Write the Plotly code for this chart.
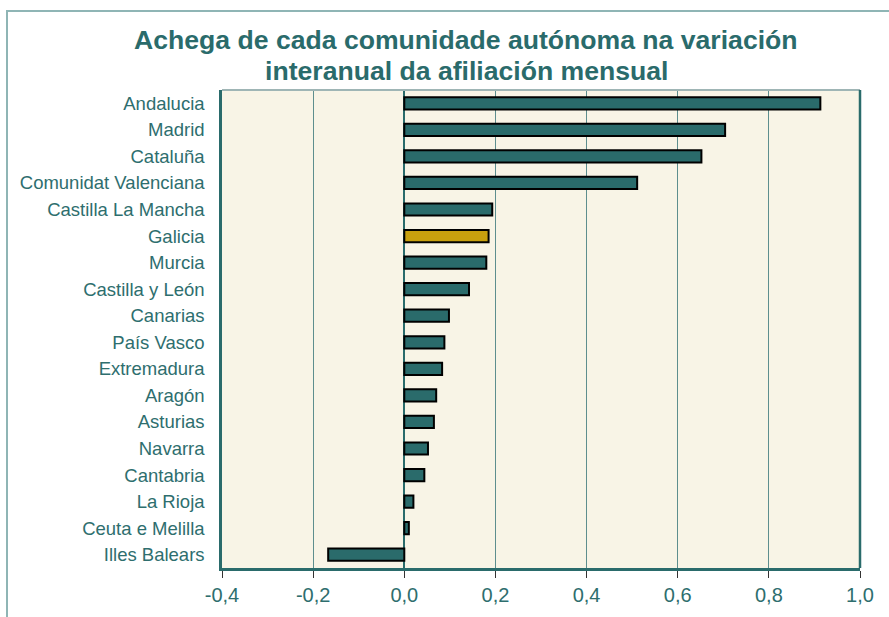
import plotly.graph_objects as go

communities = ["Andalucia", "Madrid", "Cataluña", "Comunidat Valenciana", "Castilla La Mancha",
               "Galicia", "Murcia", "Castilla y León", "Canarias", "País Vasco", "Extremadura",
               "Aragón", "Asturias", "Navarra", "Cantabria", "La Rioja", "Ceuta e Melilla",
               "Illes Balears"]
values = [0.913, 0.704, 0.652, 0.511, 0.193, 0.185, 0.180, 0.142, 0.098, 0.088, 0.083,
          0.070, 0.065, 0.052, 0.044, 0.020, 0.010, -0.167]
tick_vals = [-0.4, -0.2, 0.0, 0.2, 0.4, 0.6, 0.8, 1.0]
tick_text = ["-0,4", "-0,2", "0,0", "0,2", "0,4", "0,6", "0,8", "1,0"]
title_lines = ["Achega de cada comunidade autónoma na variación",
               "interanual da afiliación mensual"]

teal = "#2A6B6B"
label_col = "#2E6E6E"
gold = "#C8A00E"
colors = [gold if c == "Galicia" else teal for c in communities]
FONT = "Liberation Sans, Arial, sans-serif"

fig = go.Figure()
fig.add_trace(go.Bar(
    x=values, y=communities, orientation="h",
    marker=dict(color=colors, line=dict(color="#000000", width=2)),
    width=0.46,
))

L, R, T, B = 222, 29, 90, 49
W, H = 889, 617
ph = H - T - B
pw = W - L - R

def py(pix):
    return (H - B - pix) / ph

def px(pix):
    return (pix - L) / pw

annotations = [
    dict(text=title_lines[0], x=px(466), y=py(40), xref="paper", yref="paper",
         xanchor="center", yanchor="middle", showarrow=False,
         font=dict(size=26.6, color=teal, family=FONT, weight="bold")),
    dict(text=title_lines[1], x=px(466), y=py(70.5), xref="paper", yref="paper",
         xanchor="center", yanchor="middle", showarrow=False,
         font=dict(size=26.6, color=teal, family=FONT, weight="bold")),
]

shapes = [
    dict(type="rect", xref="paper", yref="paper",
         x0=px(7), x1=px(950), y0=py(700), y1=py(11),
         line=dict(color="#8FB5B5", width=2), fillcolor="rgba(0,0,0,0)", layer="below"),
    dict(type="line", xref="paper", yref="paper", x0=0, x1=1, y0=1, y1=1,
         line=dict(color="#9FB5B5", width=2)),
    dict(type="line", xref="paper", yref="paper", x0=1, x1=1, y0=0, y1=1,
         line=dict(color=teal, width=2.5)),
]

fig.update_layout(
    width=W, height=H,
    margin=dict(l=L, r=R, t=T, b=B),
    paper_bgcolor="white",
    plot_bgcolor="#F8F4E6",
    showlegend=False,
    font=dict(family=FONT, color=label_col, size=18),
    annotations=annotations,
    shapes=shapes,
    xaxis=dict(
        range=[-0.4, 1.0], tickvals=tick_vals, ticktext=tick_text,
        showgrid=True, gridcolor="#5E8E8E", gridwidth=1,
        zeroline=True, zerolinecolor=teal, zerolinewidth=1.5,
        ticks="outside", ticklen=7, tickcolor="#333333",
        showline=True, linecolor=teal, linewidth=2.5,
        tickfont=dict(size=20, color=label_col),
    ),
    yaxis=dict(
        autorange="reversed", showgrid=False,
        showline=True, linecolor=teal, linewidth=2.5,
        ticks="", ticklabelstandoff=11,
        tickfont=dict(size=18.5, color=label_col),
    ),
)

fig.write_html("out.html", config={"displayModeBar": False},
               post_script="document.body.style.margin='0';document.body.style.overflow='hidden';")
